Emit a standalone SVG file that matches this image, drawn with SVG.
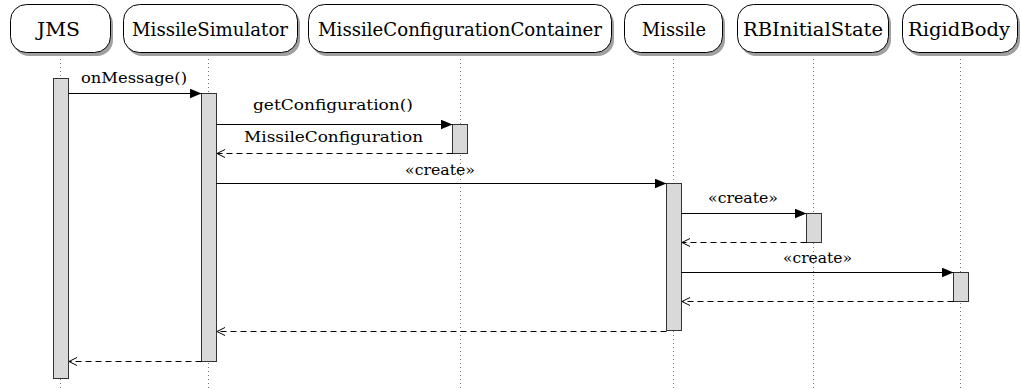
<svg xmlns="http://www.w3.org/2000/svg" width="1021" height="389" viewBox="0 0 1021 389">
  <style>
    .box { fill: #ffffff; stroke: #000000; stroke-width: 1; }
    .shadow { fill: #a0a0a0; }
    text { font-family: "DejaVu Serif", "Liberation Serif", serif; }
    .head { font-size: 18px; text-anchor: middle; fill: #000; }
    .life { stroke: #777; stroke-width: 1; stroke-dasharray: 1 3; fill: none; }
    .act { fill: #d9d9d9; stroke: #333; stroke-width: 1; }
    .msg { stroke: #000; stroke-width: 1; fill: none; }
    .ret { stroke: #000; stroke-width: 1; stroke-dasharray: 6 4; fill: none; }
    .lbl { font-size: 15px; text-anchor: middle; fill: #000; }
  </style>
  <defs>
    <marker id="solid" viewBox="0 0 12 10" refX="12" refY="5" markerWidth="12" markerHeight="10" markerUnits="userSpaceOnUse" orient="auto">
      <path d="M0,0 L12,5 L0,10 Z" fill="#000"/>
    </marker>
    <marker id="open" viewBox="0 0 8 10" refX="8" refY="5" markerWidth="8" markerHeight="10" markerUnits="userSpaceOnUse" orient="auto">
      <path d="M0,1 L8,5 L0,9" fill="none" stroke="#000" stroke-width="1"/>
    </marker>
  </defs>

  <!-- lifelines -->
  <g id="lifelines">
    <line class="life" x1="60.5" y1="55" x2="60.5" y2="389"/>
    <line class="life" x1="208.5" y1="55" x2="208.5" y2="389"/>
    <line class="life" x1="460.5" y1="55" x2="460.5" y2="389"/>
    <line class="life" x1="673.5" y1="55" x2="673.5" y2="389"/>
    <line class="life" x1="813.5" y1="55" x2="813.5" y2="389"/>
    <line class="life" x1="960.5" y1="55" x2="960.5" y2="389"/>
  </g>

  <!-- participants -->
  <g id="jms">
    <rect class="shadow" x="13" y="8" width="100" height="48" rx="16"/>
    <rect class="box" x="10.5" y="4.5" width="100" height="48" rx="16"/>
    <text class="head" x="58.5" y="36" textLength="43" lengthAdjust="spacingAndGlyphs">JMS</text>
  </g>
  <g id="missileSimulator">
    <rect class="shadow" x="126" y="8" width="174" height="48" rx="16"/>
    <rect class="box" x="123.5" y="4.5" width="174" height="48" rx="16"/>
    <text class="head" x="210" y="36" textLength="156" lengthAdjust="spacingAndGlyphs">MissileSimulator</text>
  </g>
  <g id="missileConfigurationContainer">
    <rect class="shadow" x="311" y="8" width="303" height="48" rx="16"/>
    <rect class="box" x="308.5" y="4.5" width="303" height="48" rx="16"/>
    <text class="head" x="460" y="36" textLength="284" lengthAdjust="spacingAndGlyphs">MissileConfigurationContainer</text>
  </g>
  <g id="missile">
    <rect class="shadow" x="627" y="8" width="98" height="48" rx="16"/>
    <rect class="box" x="624.5" y="4.5" width="98" height="48" rx="16"/>
    <text class="head" x="674" y="36" textLength="64" lengthAdjust="spacingAndGlyphs">Missile</text>
  </g>
  <g id="rbInitialState">
    <rect class="shadow" x="740" y="8" width="151" height="48" rx="16"/>
    <rect class="box" x="737.5" y="4.5" width="151" height="48" rx="16"/>
    <text class="head" x="813" y="36" textLength="140" lengthAdjust="spacingAndGlyphs">RBInitialState</text>
  </g>
  <g id="rigidBody">
    <rect class="shadow" x="905" y="8" width="115" height="48" rx="16"/>
    <rect class="box" x="902.5" y="4.5" width="115" height="48" rx="16"/>
    <text class="head" x="959" y="36" textLength="102" lengthAdjust="spacingAndGlyphs">RigidBody</text>
  </g>

  <!-- activation bars -->
  <g id="activations">
    <rect class="act" x="53.5" y="78.5" width="15" height="300"/>
    <rect class="act" x="201.5" y="93.5" width="15" height="268"/>
    <rect class="act" x="452.5" y="124.5" width="15" height="29"/>
    <rect class="act" x="666.5" y="183.5" width="15" height="147"/>
    <rect class="act" x="806.5" y="213.5" width="15" height="29"/>
    <rect class="act" x="953.5" y="272.5" width="15" height="29"/>
  </g>

  <!-- messages -->
  <g id="connectors">
    <line class="msg" x1="68.5" y1="93.5" x2="201.5" y2="93.5" marker-end="url(#solid)"/>
    <line class="msg" x1="216.5" y1="124.5" x2="452.5" y2="124.5" marker-end="url(#solid)"/>
    <line class="ret" x1="452.5" y1="153.5" x2="217" y2="153.5" marker-end="url(#open)"/>
    <line class="msg" x1="216.5" y1="183.5" x2="666.5" y2="183.5" marker-end="url(#solid)"/>
    <line class="msg" x1="681.5" y1="213.5" x2="806.5" y2="213.5" marker-end="url(#solid)"/>
    <line class="ret" x1="806.5" y1="242.5" x2="682" y2="242.5" marker-end="url(#open)"/>
    <line class="msg" x1="681.5" y1="272.5" x2="953.5" y2="272.5" marker-end="url(#solid)"/>
    <line class="ret" x1="953.5" y1="301.5" x2="682" y2="301.5" marker-end="url(#open)"/>
    <line class="ret" x1="666.5" y1="331.5" x2="217" y2="331.5" marker-end="url(#open)"/>
    <line class="ret" x1="201.5" y1="361.5" x2="69" y2="361.5" marker-end="url(#open)"/>
  </g>

  <!-- message labels -->
  <g id="labels">
    <text class="lbl" x="134" y="83" textLength="106" lengthAdjust="spacingAndGlyphs">onMessage()</text>
    <text class="lbl" x="333" y="110" textLength="160" lengthAdjust="spacingAndGlyphs">getConfiguration()</text>
    <text class="lbl" x="333.5" y="142" textLength="179" lengthAdjust="spacingAndGlyphs">MissileConfiguration</text>
    <text class="lbl" x="440" y="175" textLength="70" lengthAdjust="spacingAndGlyphs">«create»</text>
    <text class="lbl" x="743" y="203" textLength="70" lengthAdjust="spacingAndGlyphs">«create»</text>
    <text class="lbl" x="817.5" y="263" textLength="69" lengthAdjust="spacingAndGlyphs">«create»</text>
  </g>
</svg>
